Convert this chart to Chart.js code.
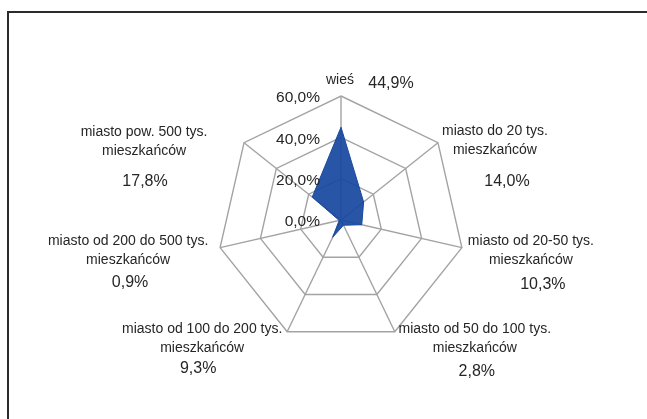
<!DOCTYPE html>
<html lang="pl">
<head>
<meta charset="utf-8">
<script src="https://cdn.jsdelivr.net/npm/chart.js@4/dist/chart.umd.min.js"></script>
<style>
  html, body { margin: 0; padding: 0; background: #fff; }
  #wrap { position: relative; width: 647px; height: 419px; overflow: hidden; }
  #frame { position: absolute; left: 7px; top: 11px; width: 700px; height: 500px; border-left: 2px solid #2b2b2b; border-top: 2px solid #2b2b2b; }
  #radar { position: absolute; left: 0; top: 0; }
</style>
</head>
<body>
<div id="wrap">
  <div id="frame"></div>
  <canvas id="radar" width="647" height="419"></canvas>
</div>
<script>
// Place of residence shares
const categories = [
    ["wieś"],
    ["miasto do 20 tys.", "mieszkańców"],
    ["miasto od 20-50 tys.", "mieszkańców"],
    ["miasto od 50 do 100 tys.", "mieszkańców"],
    ["miasto od 100 do 200 tys.", "mieszkańców"],
    ["miasto od 200 do 500 tys.", "mieszkańców"],
    ["miasto pow. 500 tys.", "mieszkańców"]
];
const values = [44.9, 14.0, 10.3, 2.8, 9.3, 0.9, 17.8];
const tickValues = [0, 20, 40, 60];

// label offsets from each outer vertex: name block (x, first line y), percent (x, y)
const labelOffsets = [
    { nx: -1, ny: -16, px: 50, py: -12 },
    { nx: 57, ny: -12, px: 69, py: 39 },
    { nx: 69, ny: -6, px: 81, py: 37 },
    { nx: 80, ny: -3, px: 82, py: 40 },
    { nx: -85, ny: -3, px: -89, py: 37 },
    { nx: -92, ny: -6, px: -90, py: 35 },
    { nx: -100, ny: -11, px: -99, py: 39 }
];

const fmt = v => v.toFixed(1).replace(".", ",") + "%";

const radarLabels = {
    id: "radarLabels",
    afterDraw(chart) {
        const scale = chart.scales.r;
        const c = chart.ctx;
        c.save();
        c.fillStyle = "#262626";
        c.textBaseline = "middle";

        // tick labels, left of the vertical axis
        c.font = "15.5px 'Liberation Sans', Arial, sans-serif";
        c.textAlign = "right";
        tickValues.forEach(v => {
            const y = scale.yCenter - scale.getDistanceFromCenterForValue(v);
            c.fillText(fmt(v), scale.xCenter - 21, y + 2);
        });

        // category names and values
        c.textAlign = "center";
        categories.forEach((lines, i) => {
            const p = scale.getPointPosition(i, scale.drawingArea);
            const o = labelOffsets[i];
            c.font = "14px 'Liberation Sans', Arial, sans-serif";
            lines.forEach((t, j) => c.fillText(t, p.x + o.nx, p.y + o.ny + j * 19));
            c.font = "16px 'Liberation Sans', Arial, sans-serif";
            c.fillText(fmt(values[i]), p.x + o.px, p.y + o.py);
        });
        c.restore();
    }
};

new Chart(document.getElementById("radar"), {
    type: "radar",
    data: {
        labels: categories,
        datasets: [{
            data: values,
            backgroundColor: "rgba(24,72,158,0.93)",
            borderColor: "#18489e",
            borderWidth: 1,
            pointRadius: 0
        }]
    },
    options: {
        responsive: false,
        animation: false,
        layout: { padding: { left: 217, right: 182, top: 96, bottom: 75 } },
        plugins: { legend: { display: false }, tooltip: { enabled: false } },
        scales: {
            r: {
                min: 0,
                max: 60,
                ticks: { display: false, stepSize: 20 },
                pointLabels: { display: false },
                grid: { color: "#a3a3a3", lineWidth: 1.4 },
                angleLines: { color: "#a3a3a3", lineWidth: 1.4 }
            }
        }
    },
    plugins: [radarLabels]
});
</script>
</body>
</html>
